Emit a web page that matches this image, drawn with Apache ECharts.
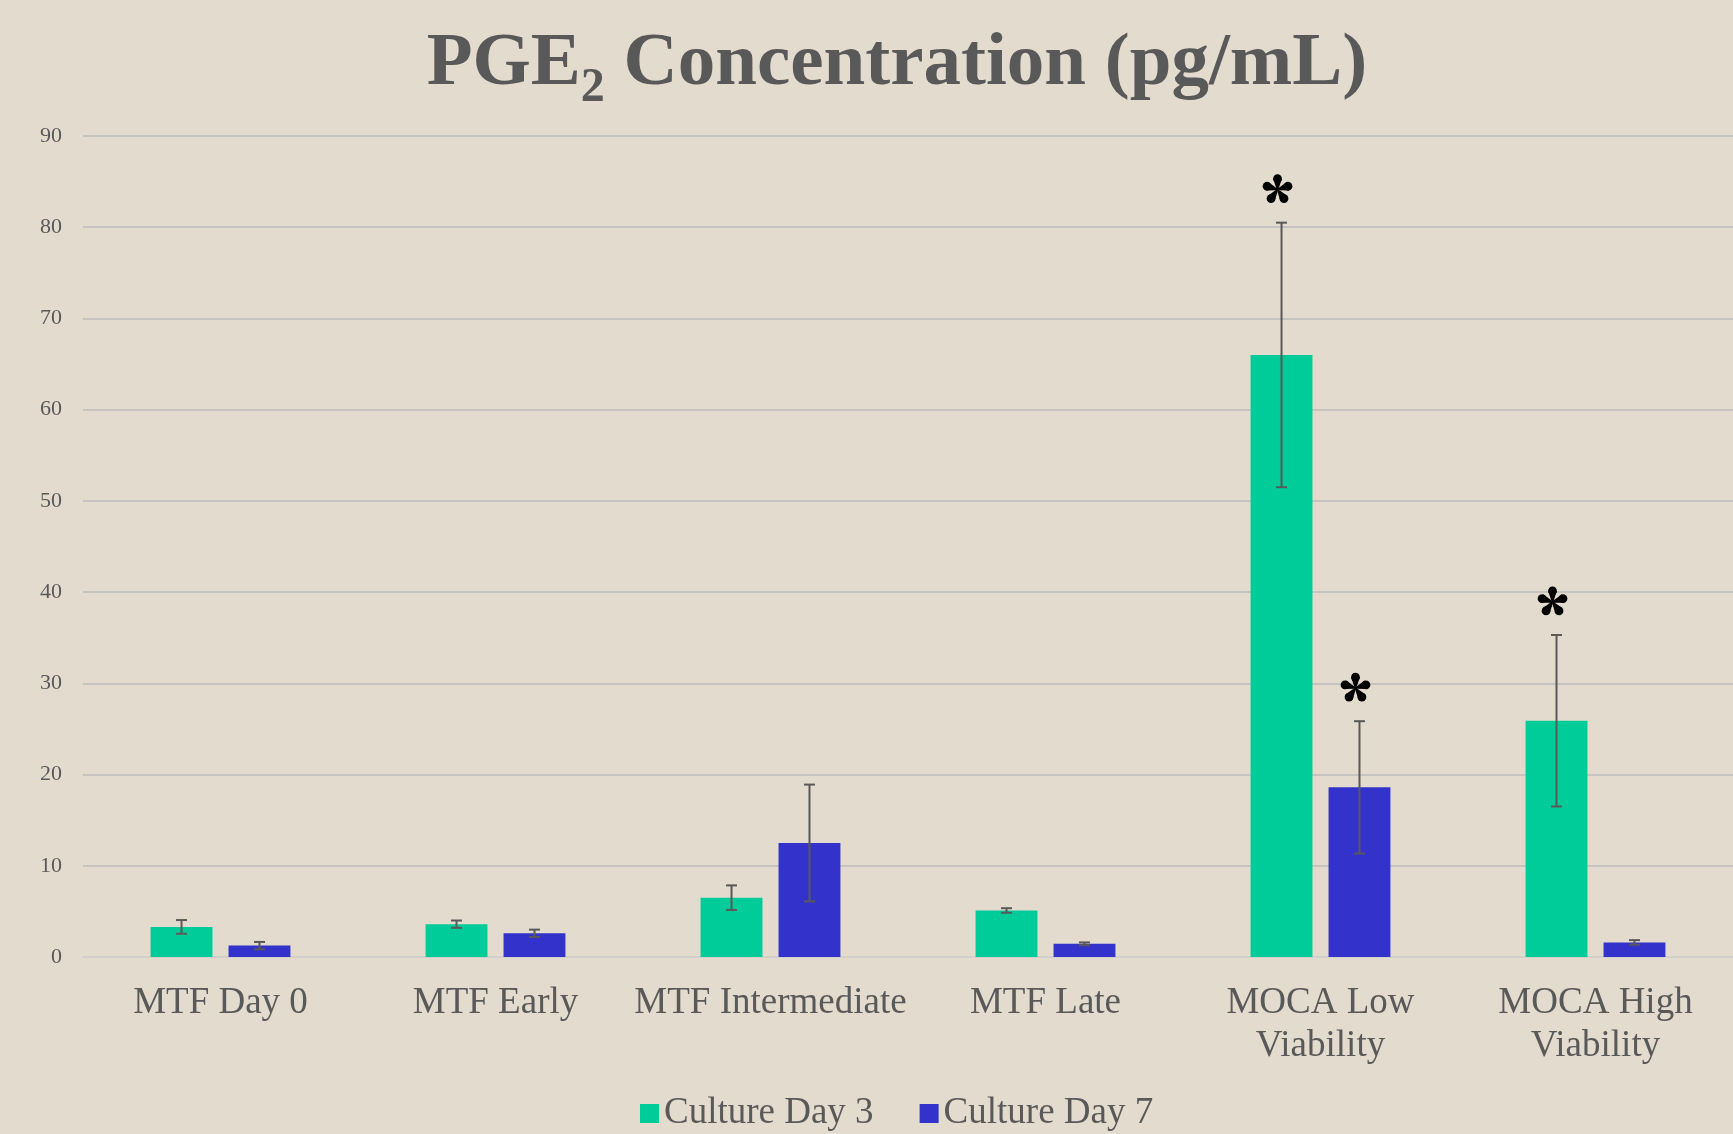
<!DOCTYPE html>
<html>
<head>
<meta charset="utf-8">
<script src="https://cdn.jsdelivr.net/npm/echarts@6/dist/echarts.min.js"></script>
<style>
  html, body { margin: 0; padding: 0; background: #e3dbcd; }
  #chart { width: 1733px; height: 1134px; }
</style>
</head>
<body>
<div id="chart"></div>
<script>
var categories = ['MTF Day 0', 'MTF Early', 'MTF Intermediate', 'MTF Late', 'MOCA Low\nViability', 'MOCA High\nViability'];
var day3 = [3.3, 3.6, 6.5, 5.1, 66.0, 25.9];
var day3Err = [0.75, 0.4, 1.35, 0.25, 14.5, 9.4];
var day3Sig = [0, 0, 0, 0, 1, 1];
var day7 = [1.25, 2.6, 12.5, 1.45, 18.6, 1.6];
var day7Err = [0.4, 0.4, 6.4, 0.15, 7.25, 0.25];
var day7Sig = [0, 0, 0, 0, 1, 0];

var FONT = 'Liberation Serif';
var TEXT = '#595959';
var BAR_W = 0.225;
var BAR_GAP = 0.26;

function errData(vals, errs, sig) {
    return vals.map(function (v, i) { return [i, v, errs[i], sig[i]]; });
}

// five teardrop petals, like the serif asterisk in the original
function star(cx, cy) {
    var kids = [];
    var d = 11, r = 4.4, base = 0.7;
    for (var k = 0; k < 5; k++) {
        var a = -Math.PI / 2 + k * 2 * Math.PI / 5;
        var ux = Math.cos(a), uy = Math.sin(a);
        var px = -uy, py = ux;
        var tx = cx + ux * d, ty = cy + uy * d;
        kids.push({ type: 'circle', shape: { cx: tx, cy: ty, r: r }, style: { fill: '#000' } });
        kids.push({
            type: 'polygon',
            shape: { points: [
                [cx + px * base, cy + py * base],
                [tx + px * r, ty + py * r],
                [tx - px * r, ty - py * r],
                [cx - px * base, cy - py * base]
            ] },
            style: { fill: '#000' }
        });
    }
    return { type: 'group', children: kids };
}

// error bars + significance star, shifted to sit on the grouped bar
function errRender(side) {
    return function (params, api) {
        var i = api.value(0), v = api.value(1), e = api.value(2), s = api.value(3);
        var band = api.size([1, 0])[0];
        var dx = side * band * BAR_W * (1 + BAR_GAP) / 2;
        var hi = api.coord([i, v + e]);
        var lo = api.coord([i, v - e]);
        var x = hi[0] + dx;
        var cap = 5.5;
        var st = { stroke: '#595959', lineWidth: 2 };
        var kids = [
            { type: 'line', shape: { x1: x, y1: hi[1], x2: x, y2: lo[1] }, style: st },
            { type: 'line', shape: { x1: x - cap, y1: hi[1], x2: x + cap, y2: hi[1] }, style: st },
            { type: 'line', shape: { x1: x - cap, y1: lo[1], x2: x + cap, y2: lo[1] }, style: st }
        ];
        if (s) {
            kids.push(star(x - 4, hi[1] - 33));
        }
        return { type: 'group', children: kids };
    };
}

var chart = echarts.init(document.getElementById('chart'));
chart.setOption({
    backgroundColor: '#e3dbcd',
    animation: false,
    title: {
        text: '{t|PGE}{s|2}{t| Concentration (pg/mL)}',
        left: 892,
        textAlign: 'center',
        top: 12,
        textStyle: {
            rich: {
                t: { fontFamily: FONT, fontWeight: 'bold', fontSize: 75, color: TEXT, lineHeight: 96 },
                s: { fontFamily: FONT, fontWeight: 'bold', fontSize: 48, color: TEXT, lineHeight: 48, verticalAlign: 'bottom' }
            }
        }
    },
    legend: {
        data: ['Culture Day 3', 'Culture Day 7'],
        left: 635,
        top: 1090,
        icon: 'rect',
        itemWidth: 19,
        itemHeight: 19,
        itemGap: 46,
        textStyle: { fontFamily: FONT, fontSize: 37, color: TEXT }
    },
    grid: { left: 83, right: 0, top: 136, bottom: 177 },
    xAxis: {
        type: 'category',
        data: categories,
        axisLine: { lineStyle: { color: '#d6d3ce', width: 1.5 } },
        axisTick: { show: false },
        axisLabel: { fontFamily: FONT, fontSize: 37, color: TEXT, lineHeight: 43, margin: 25, interval: 0 }
    },
    yAxis: {
        type: 'value',
        min: 0,
        max: 90,
        interval: 10,
        axisLine: { show: false },
        axisTick: { show: false },
        axisLabel: { fontFamily: FONT, fontSize: 22, color: TEXT, margin: 21 },
        splitLine: { lineStyle: { color: '#bdbdbd', width: 1.5 } }
    },
    series: [
        {
            name: 'Culture Day 3', type: 'bar', data: day3,
            barWidth: (BAR_W * 100) + '%', barGap: (BAR_GAP * 100) + '%',
            itemStyle: { color: '#00cc99' }
        },
        {
            name: 'Culture Day 7', type: 'bar', data: day7,
            barWidth: (BAR_W * 100) + '%', barGap: (BAR_GAP * 100) + '%',
            itemStyle: { color: '#3333cc' }
        },
        {
            type: 'custom', renderItem: errRender(-1), data: errData(day3, day3Err, day3Sig),
            encode: { x: 0, y: [1] }, z: 5, silent: true
        },
        {
            type: 'custom', renderItem: errRender(1), data: errData(day7, day7Err, day7Sig),
            encode: { x: 0, y: [1] }, z: 5, silent: true
        }
    ]
});
</script>
</body>
</html>
